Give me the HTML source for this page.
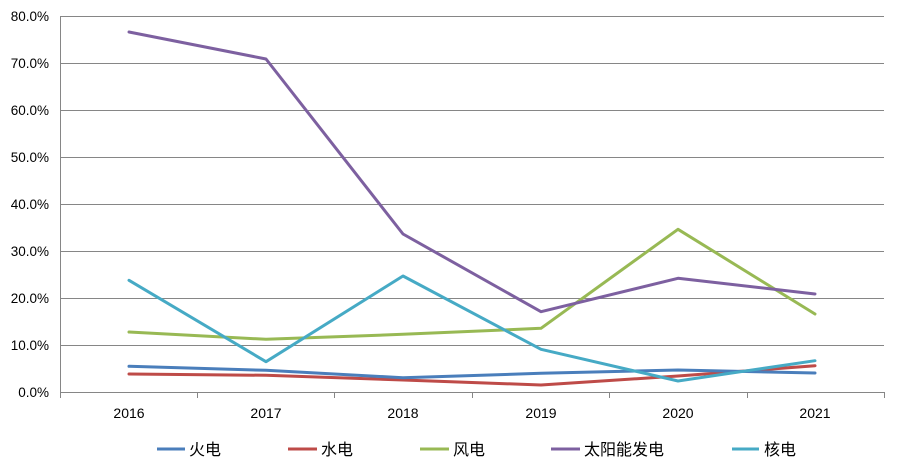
<!DOCTYPE html>
<html><head><meta charset="utf-8"><style>
html,body{margin:0;padding:0;background:#fff;}
svg{display:block;}
text{font-family:"Liberation Sans","Noto Sans CJK SC",sans-serif;fill:#000;}
</style></head><body>
<svg width="908" height="467" viewBox="0 0 908 467" xmlns="http://www.w3.org/2000/svg">
<g stroke="#868686" stroke-width="1" shape-rendering="crispEdges">
<line x1="60" y1="16.5" x2="884" y2="16.5"/>
<line x1="60" y1="63.5" x2="884" y2="63.5"/>
<line x1="60" y1="110.5" x2="884" y2="110.5"/>
<line x1="60" y1="157.5" x2="884" y2="157.5"/>
<line x1="60" y1="204.5" x2="884" y2="204.5"/>
<line x1="60" y1="251.5" x2="884" y2="251.5"/>
<line x1="60" y1="298.5" x2="884" y2="298.5"/>
<line x1="60" y1="345.5" x2="884" y2="345.5"/>
<line x1="60" y1="392.5" x2="884" y2="392.5"/>
<line x1="60.5" y1="16" x2="60.5" y2="398"/>
<line x1="197.5" y1="392" x2="197.5" y2="398"/>
<line x1="334.5" y1="392" x2="334.5" y2="398"/>
<line x1="472.5" y1="392" x2="472.5" y2="398"/>
<line x1="609.5" y1="392" x2="609.5" y2="398"/>
<line x1="747.5" y1="392" x2="747.5" y2="398"/>
<line x1="884.5" y1="392" x2="884.5" y2="398"/>
</g>
<g font-size="13.5" text-anchor="end">
<text x="49" y="21">80.0%</text>
<text x="49" y="68">70.0%</text>
<text x="49" y="115">60.0%</text>
<text x="49" y="162">50.0%</text>
<text x="49" y="209">40.0%</text>
<text x="49" y="256">30.0%</text>
<text x="49" y="303">20.0%</text>
<text x="49" y="350">10.0%</text>
<text x="49" y="397">0.0%</text>
</g>
<g font-size="14" text-anchor="middle">
<text x="129" y="418">2016</text>
<text x="266" y="418">2017</text>
<text x="403" y="418">2018</text>
<text x="541" y="418">2019</text>
<text x="678" y="418">2020</text>
<text x="815" y="418">2021</text>
</g>
<g fill="none" stroke-width="3" stroke-linejoin="round" stroke-linecap="round">
<polyline stroke="#BE4B48" points="129,374 266,375.3 403,380 541,385 678,376 815,365.7"/>
<polyline stroke="#4A7EBB" points="129,366.3 266,370.3 403,377.7 541,373.3 678,370 815,373"/>
<polyline stroke="#98B954" points="129,332 266,339.3 403,334.3 541,328.3 678,229.3 815,314"/>
<polyline stroke="#7D60A0" points="129,32 266,59 403,234 541,311.7 678,278.3 815,294"/>
<polyline stroke="#46AAC5" points="129,280.3 266,361.7 403,276 541,349.3 678,381 815,360.7"/>
</g>
<g stroke-width="3">
<line x1="157" y1="449" x2="185" y2="449" stroke="#4A7EBB"/>
<line x1="288" y1="449" x2="317" y2="449" stroke="#BE4B48"/>
<line x1="420" y1="449" x2="449" y2="449" stroke="#98B954"/>
<line x1="551" y1="449" x2="580" y2="449" stroke="#7D60A0"/>
<line x1="732" y1="449" x2="759" y2="449" stroke="#46AAC5"/>
</g>
<g font-size="16">
<text x="189" y="455">火电</text>
<text x="321" y="455">水电</text>
<text x="453" y="455">风电</text>
<text x="584" y="455">太阳能发电</text>
<text x="764" y="455">核电</text>
</g>
</svg>
</body></html>
